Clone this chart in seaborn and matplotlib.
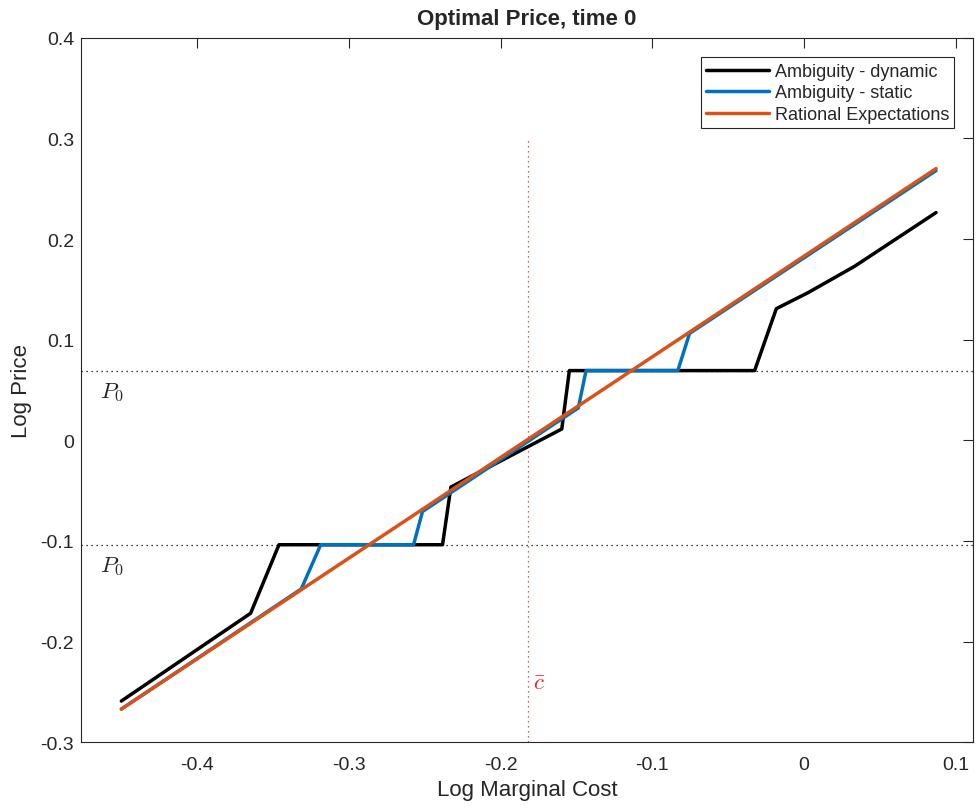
import numpy as np
import pandas as pd
import seaborn as sns
import matplotlib
matplotlib.use('Agg')
import matplotlib.pyplot as plt

# series
dyn_x = [-0.45, -0.3648, -0.3461, -0.2383, -0.2328, -0.1597, -0.1547, -0.0326, -0.0183, 0.0026, 0.0334, 0.087]
dyn_y = [-0.259, -0.1718, -0.1037, -0.1037, -0.0464, 0.0113, 0.0693, 0.0693, 0.1308, 0.1467, 0.173, 0.2263]

sta_x = [-0.45, -0.3314, -0.3186, -0.2574, -0.2515, -0.1488, -0.1437, -0.0832, -0.0755, 0.087]
sta_y = [-0.267, -0.1476, -0.1037, -0.1037, -0.0707, 0.0322, 0.0693, 0.0693, 0.1062, 0.268]

re_x = [-0.45, 0.087]
re_y = [-0.267, 0.270]

p0_levels = [0.0693, -0.1037]
c_bar = -0.182

names = ['Ambiguity - dynamic', 'Ambiguity - static', 'Rational Expectations']
colors = ['#000000', '#0072BD', '#D95319']

df = pd.concat([
    pd.DataFrame({'c': dyn_x, 'p': dyn_y, 'series': names[0]}),
    pd.DataFrame({'c': sta_x, 'p': sta_y, 'series': names[1]}),
    pd.DataFrame({'c': re_x, 'p': re_y, 'series': names[2]}),
])

sns.set_style('white')
plt.rcParams['font.family'] = ['Liberation Sans', 'DejaVu Sans']
plt.rcParams['mathtext.fontset'] = 'cm'

fig = plt.figure(figsize=(9.76, 8.12), dpi=100)
ax = fig.add_axes([0.083, 0.0846, 0.914, 0.8677])

sns.lineplot(data=df, x='c', y='p', hue='series', palette=dict(zip(names, colors)),
             estimator=None, sort=False, linewidth=2.5, ax=ax)

for lev in p0_levels:
    ax.axhline(lev, color='black', linestyle=(0, (1, 3)), linewidth=0.9, zorder=1)
ax.plot([c_bar, c_bar], [-0.3, 0.3], color='#e8232a', linestyle=(0, (1, 3)), linewidth=0.9, zorder=1)

ax.text(-0.4559, 0.0484, r'$P_0$', fontsize=16.5, ha='center', va='center')
ax.text(-0.4559, -0.1247, r'$P_0$', fontsize=16.5, ha='center', va='center')
ax.text(-0.1747, -0.241, r'$\bar{c}$', fontsize=16.5, ha='center', va='center', color='#e8232a')

ax.set_xlim(-0.4766, 0.1114)
ax.set_ylim(-0.3, 0.4)
ax.set_xticks([-0.4, -0.3, -0.2, -0.1, 0, 0.1])
ax.set_xticklabels(['-0.4', '-0.3', '-0.2', '-0.1', '0', '0.1'])
ax.set_yticks([-0.3, -0.2, -0.1, 0, 0.1, 0.2, 0.3, 0.4])
ax.set_yticklabels(['-0.3', '-0.2', '-0.1', '0', '0.1', '0.2', '0.3', '0.4'])
ax.tick_params(direction='in', length=7, width=0.8, top=True, right=True,
               labelsize=14, colors='#262626', labelcolor='#262626')
ax.tick_params(axis='x', pad=10)
ax.tick_params(axis='y', pad=5)
for s in ax.spines.values():
    s.set_color('#262626')
    s.set_linewidth(0.8)

ax.set_xlabel('Log Marginal Cost', fontsize=16, color='#262626', labelpad=4)
ax.set_ylabel('Log Price', fontsize=16, color='#262626', labelpad=6)
ax.set_title('Optimal Price, time 0', fontsize=16, fontweight='bold', pad=10)

handles, labels = ax.get_legend_handles_labels()
leg = ax.legend(handles, labels, loc='upper right', fontsize=13, handlelength=3.5,
                handletextpad=0.3, labelspacing=0.25, borderpad=0.3, borderaxespad=0,
                bbox_to_anchor=(0.979, 0.972), fancybox=False, framealpha=1)
leg.get_frame().set_edgecolor('#262626')
leg.get_frame().set_linewidth(0.8)

fig.savefig('out.png', dpi=100)
